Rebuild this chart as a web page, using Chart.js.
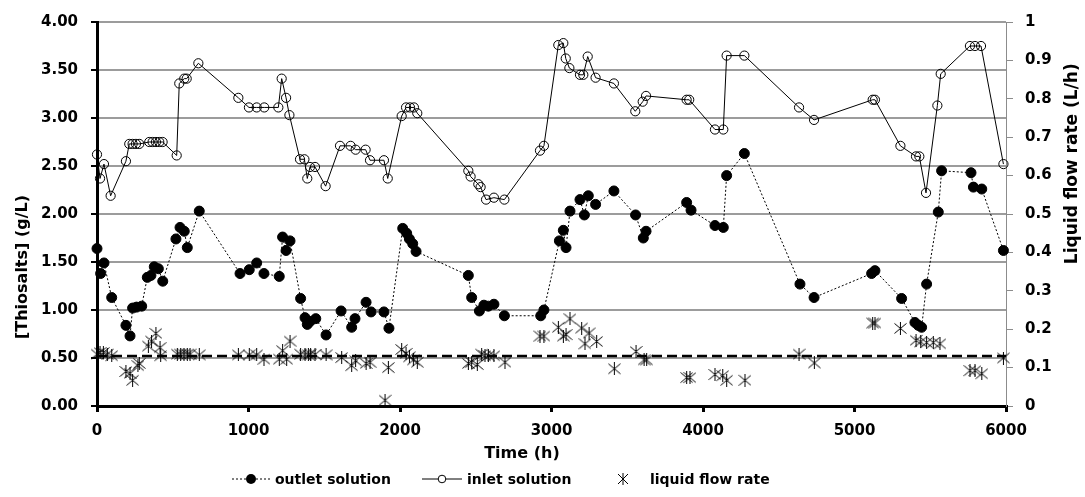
<!DOCTYPE html>
<html>
<head>
<meta charset="utf-8">
<title>Thiosalts</title>
<script src="https://cdn.jsdelivr.net/npm/chart.js@4.4.0/dist/chart.umd.min.js"></script>
<style>
  html, body { margin: 0; padding: 0; background: #fff; }
  #wrap { position: relative; width: 1085px; height: 497px; }
  #legend { position: absolute; left: 0; top: 469px; width: 1085px; height: 20px;
            font: bold 14px "DejaVu Sans", sans-serif; color: #000; }
  #legend svg, #legend span { position: absolute; top: 0; }
  #legend span { line-height: 20px; white-space: nowrap; }
</style>
</head>
<body>
<div id="wrap">
  <canvas id="chart" width="1085" height="497"></canvas>
  <div id="legend">
    <svg style="left:232px" width="40" height="20">
      <line x1="0" y1="10" x2="40" y2="10" stroke="#000" stroke-width="1" stroke-dasharray="2,2"/>
      <circle cx="19" cy="10" r="5" fill="#000"/>
    </svg>
    <span style="left:275px">outlet solution</span>
    <svg style="left:422px" width="40" height="20">
      <line x1="0" y1="10" x2="40" y2="10" stroke="#000" stroke-width="1"/>
      <circle cx="20" cy="10" r="3.8" fill="#fff" stroke="#000" stroke-width="1"/>
    </svg>
    <span style="left:467px">inlet solution</span>
    <svg style="left:617px" width="12" height="20">
      <path d="M1 5 L11 15 M11 5 L1 15 M6 4 L6 16" stroke="#000" stroke-width="1" fill="none"/>
    </svg>
    <span style="left:650px">liquid flow rate</span>
  </div>
</div>
<script>
// time axis and tick values
const timeTicks = [0, 1000, 2000, 3000, 4000, 5000, 6000];
const concTicks = [0, 0.5, 1, 1.5, 2, 2.5, 3, 3.5, 4];
const flowTicks = [0, 0.1, 0.2, 0.3, 0.4, 0.5, 0.6, 0.7, 0.8, 0.9, 1];

// inlet solution, thiosalts (g/L)
const inletTime = [0, 20, 46, 90, 191, 213, 235, 257, 279, 345, 367, 389, 411, 433, 526, 543, 576, 592, 669,
  933, 1003, 1054, 1104, 1197, 1219, 1248, 1270, 1340, 1369, 1388, 1406, 1439, 1509, 1604, 1674, 1707, 1773,
  1802, 1894, 1919, 2011, 2040, 2066, 2092, 2114, 2451, 2466, 2517, 2532, 2568, 2620, 2689, 2924, 2950, 3045,
  3078, 3094, 3118, 3188, 3210, 3239, 3291, 3412, 3553, 3602, 3624, 3892, 3909, 4079, 4134, 4156, 4273, 4634,
  4733, 5120, 5135, 5303, 5406, 5428, 5472, 5547, 5569, 5762, 5795, 5835, 5983];
const inletConc = [2.62, 2.37, 2.52, 2.19, 2.55, 2.73, 2.73, 2.73, 2.73, 2.75, 2.75, 2.75, 2.75, 2.75, 2.61, 3.36, 3.41, 3.41, 3.57,
  3.21, 3.11, 3.11, 3.11, 3.11, 3.41, 3.21, 3.03, 2.57, 2.57, 2.37, 2.49, 2.49, 2.29, 2.71, 2.71, 2.67, 2.67,
  2.56, 2.56, 2.37, 3.02, 3.11, 3.11, 3.11, 3.05, 2.45, 2.39, 2.31, 2.28, 2.15, 2.17, 2.15, 2.66, 2.71, 3.76,
  3.78, 3.62, 3.52, 3.45, 3.45, 3.64, 3.42, 3.36, 3.07, 3.17, 3.23, 3.19, 3.19, 2.88, 2.88, 3.65, 3.65, 3.11,
  2.98, 3.19, 3.19, 2.71, 2.60, 2.60, 2.22, 3.13, 3.46, 3.75, 3.75, 3.75, 2.52];

// outlet solution, thiosalts (g/L)
const outletTime = [0, 24, 46, 97, 191, 218, 235, 261, 295, 332, 356, 378, 405, 434, 521, 548, 576, 596, 675,
  944, 1005, 1054, 1102, 1203, 1225, 1248, 1274, 1344, 1373, 1388, 1406, 1444, 1512, 1611, 1681, 1703, 1776,
  1809, 1894, 1927, 2018, 2044, 2062, 2084, 2106, 2451, 2473, 2524, 2554, 2583, 2620, 2689, 2929, 2950, 3052,
  3078, 3096, 3122, 3188, 3217, 3243, 3291, 3412, 3555, 3606, 3624, 3892, 3921, 4079, 4134, 4156, 4273, 4640,
  4733, 5113, 5135, 5311, 5399, 5421, 5443, 5476, 5553, 5575, 5769, 5785, 5840, 5983];
const outletConc = [1.64, 1.38, 1.49, 1.13, 0.84, 0.73, 1.02, 1.03, 1.04, 1.34, 1.36, 1.45, 1.43, 1.30, 1.74, 1.86, 1.82, 1.65, 2.03,
  1.38, 1.42, 1.49, 1.38, 1.35, 1.76, 1.62, 1.72, 1.12, 0.92, 0.85, 0.88, 0.91, 0.74, 0.99, 0.82, 0.91, 1.08,
  0.98, 0.98, 0.81, 1.85, 1.80, 1.74, 1.69, 1.61, 1.36, 1.13, 0.99, 1.05, 1.04, 1.06, 0.94, 0.94, 1.00, 1.72,
  1.83, 1.65, 2.03, 2.15, 1.99, 2.19, 2.10, 2.24, 1.99, 1.75, 1.82, 2.12, 2.04, 1.88, 1.86, 2.40, 2.63, 1.27,
  1.13, 1.38, 1.41, 1.12, 0.87, 0.84, 0.82, 1.27, 2.02, 2.45, 2.43, 2.28, 2.26, 1.62];

// liquid flow rate (L/h)
const flowTime = [0, 20, 42, 68, 97, 191, 218, 235, 270, 279, 339, 360, 389, 416, 420, 530, 552, 574, 596, 614,
  675, 933, 1005, 1054, 1102, 1203, 1225, 1252, 1274, 1344, 1373, 1395, 1410, 1439, 1512, 1615, 1681, 1707,
  1776, 1802, 1901, 1923, 2011, 2040, 2062, 2088, 2114, 2451, 2473, 2510, 2539, 2561, 2583, 2620, 2693, 2924,
  2950, 3045, 3078, 3096, 3122, 3199, 3221, 3248, 3298, 3415, 3558, 3611, 3628, 3892, 3914, 4079, 4130, 4156,
  4277, 4634, 4735, 5120, 5135, 5303, 5406, 5437, 5476, 5520, 5564, 5762, 5795, 5840, 5983];
const flowRate = [0.135, 0.139, 0.139, 0.135, 0.131, 0.090, 0.085, 0.067, 0.105, 0.111, 0.156, 0.169, 0.189, 0.152, 0.131, 0.135, 0.135, 0.135, 0.135, 0.135,
  0.133, 0.133, 0.133, 0.133, 0.122, 0.122, 0.144, 0.122, 0.169, 0.135, 0.133, 0.133, 0.135, 0.134, 0.133, 0.126, 0.105, 0.118,
  0.111, 0.114, 0.015, 0.100, 0.147, 0.137, 0.128, 0.120, 0.114, 0.111, 0.114, 0.108, 0.135, 0.131, 0.131, 0.131, 0.114, 0.182,
  0.182, 0.205, 0.182, 0.186, 0.227, 0.203, 0.162, 0.190, 0.168, 0.097, 0.142, 0.120, 0.120, 0.074, 0.074, 0.082, 0.079, 0.067,
  0.067, 0.135, 0.112, 0.216, 0.216, 0.202, 0.171, 0.167, 0.165, 0.165, 0.162, 0.092, 0.092, 0.084, 0.125];

// set-point flow rate line
const refTime = [0, 6000];
const refFlow = [0.13, 0.13];

const FONT = 'DejaVu Sans';

function pts(xs, ys) {
  return xs.map(function (x, i) { return { x: x, y: ys[i] }; });
}

// asterisk marker: X with a vertical bar
function makeAsterisk(size) {
  var c = document.createElement('canvas');
  c.width = size; c.height = size;
  var g = c.getContext('2d');
  g.strokeStyle = '#000';
  g.lineWidth = 1;
  var m = size / 2;
  g.beginPath();
  g.moveTo(0.5, 1.5); g.lineTo(size - 0.5, size - 1.5);
  g.moveTo(size - 0.5, 1.5); g.lineTo(0.5, size - 1.5);
  g.moveTo(m, 0); g.lineTo(m, size);
  g.stroke();
  return c;
}

function fixTicks(values) {
  return function (scale) {
    scale.ticks = values.map(function (v) { return { value: v }; });
  };
}

// axis titles, both y titles read bottom-to-top
var axisTitles = {
  id: 'axisTitles',
  afterDraw: function (chart) {
    var ctx = chart.ctx, a = chart.chartArea;
    var h = a.bottom - a.top;
    ctx.save();
    ctx.fillStyle = '#000';
    ctx.textAlign = 'center';
    ctx.textBaseline = 'middle';
    ctx.font = 'bold 16px "' + FONT + '"';
    ctx.fillText('Time (h)', a.left + (a.right - a.left) * 0.4675, a.bottom + 48);

    ctx.save();
    ctx.translate(a.left - 74, a.top + h * 0.638);
    ctx.rotate(-Math.PI / 2);
    ctx.fillText('[Thiosalts] (g/L)', 0, 0);
    ctx.restore();

    ctx.save();
    ctx.font = 'bold 17px "' + FONT + '"';
    ctx.translate(a.right + 67, a.top + h * 0.369);
    ctx.rotate(-Math.PI / 2);
    ctx.fillText('Liquid flow rate (L/h)', 0, 0);
    ctx.restore();

    ctx.restore();
  }
};

var tickFont = { family: FONT, weight: 'bold', size: 15 };

var chart = new Chart(document.getElementById('chart'), {
  type: 'scatter',
  data: {
    datasets: [{
      label: 'outlet solution',
      data: pts(outletTime, outletConc),
      yAxisID: 'y',
      showLine: true,
      borderColor: '#000',
      borderWidth: 1,
      borderDash: [2, 2],
      pointRadius: 5,
      pointBackgroundColor: '#000',
      pointBorderColor: '#000',
      pointBorderWidth: 1,
      clip: false
    }, {
      label: 'inlet solution',
      data: pts(inletTime, inletConc),
      yAxisID: 'y',
      showLine: true,
      borderColor: '#000',
      borderWidth: 1,
      pointRadius: 4.6,
      pointBackgroundColor: 'rgba(0,0,0,0)',
      pointBorderColor: '#000',
      pointBorderWidth: 1,
      clip: false
    }, {
      label: 'liquid flow rate',
      data: pts(flowTime, flowRate),
      yAxisID: 'y1',
      showLine: false,
      pointStyle: makeAsterisk(13),
      pointRadius: 6,
      clip: false
    }, {
      label: 'set point',
      data: pts(refTime, refFlow),
      yAxisID: 'y1',
      showLine: true,
      borderColor: '#000',
      borderWidth: 2.5,
      borderDash: [10, 5],
      pointRadius: 0
    }]
  },
  options: {
    responsive: false,
    devicePixelRatio: 1,
    animation: false,
    events: [],
    layout: { padding: { top: 16, left: 0, right: 0, bottom: 0 } },
    plugins: {
      legend: { display: false },
      tooltip: { enabled: false }
    },
    scales: {
      x: {
        type: 'linear',
        min: 0,
        max: 6000,
        afterBuildTicks: fixTicks(timeTicks),
        afterFit: function (s) { s.height = 91; },
        ticks: { font: tickFont, color: '#000', padding: 10, maxRotation: 0,
                 callback: function (v) { return String(v); } },
        grid: { drawOnChartArea: false, drawTicks: true, tickLength: 6, color: '#000', lineWidth: 3 },
        border: { display: true, color: '#000', width: 3 }
      },
      y: {
        position: 'left',
        min: 0,
        max: 4,
        afterBuildTicks: fixTicks(concTicks),
        afterFit: function (s) { s.width = 97; },
        ticks: { font: tickFont, color: '#000', padding: 13,
                 callback: function (v) { return v.toFixed(2); } },
        // gray horizontal grid; the line at 0 sits under the black x axis
        grid: { color: '#9c9c9c', lineWidth: 2, tickColor: '#000', tickWidth: 2, tickLength: 6 },
        border: { display: true, color: '#000', width: 3 }
      },
      y1: {
        position: 'right',
        min: 0,
        max: 1,
        afterBuildTicks: fixTicks(flowTicks),
        afterFit: function (s) { s.width = 79; },
        ticks: { font: tickFont, color: '#000', padding: 12,
                 callback: function (v) { return String(Math.round(v * 10) / 10); } },
        grid: { drawOnChartArea: false, drawTicks: true, tickLength: 7, color: '#8c8c8c', lineWidth: 1 },
        border: { display: true, color: '#8c8c8c', width: 1 }
      }
    }
  },
  plugins: [axisTitles]
});
</script>
</body>
</html>
